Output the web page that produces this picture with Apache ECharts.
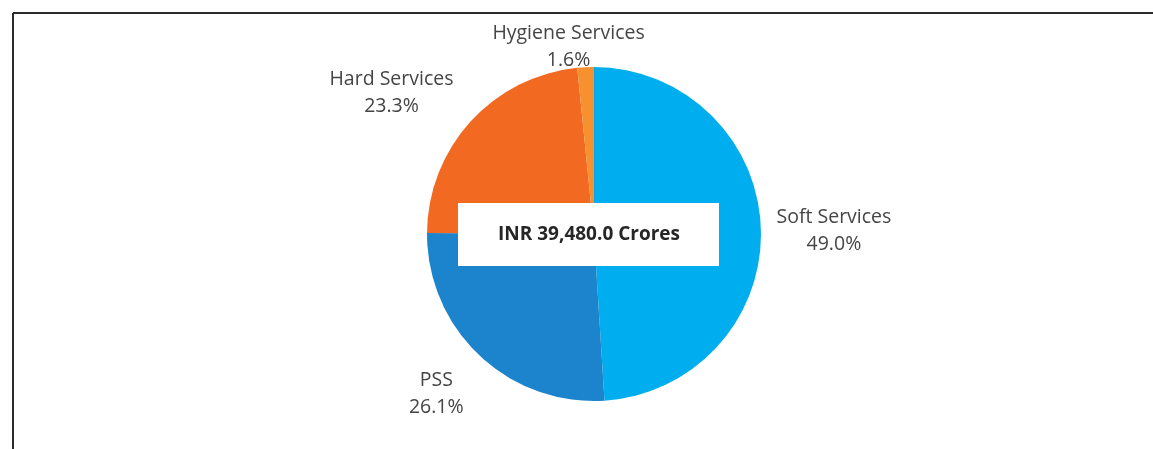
<!DOCTYPE html>
<html>
<head>
<meta charset="utf-8">
<script src="https://cdn.jsdelivr.net/npm/echarts@6/dist/echarts.min.js"></script>
<style>
html,body{margin:0;padding:0;background:#fff;}
#chart{width:1153px;height:449px;}
</style>
</head>
<body>
<div id="chart"></div>
<script>
const categories = ['Soft Services', 'PSS', 'Hard Services', 'Hygiene Services'];
const shares = [49.0, 26.1, 23.3, 1.6];
const colors = ['#00AEEF', '#1B84CC', '#F26A21', '#F7902E'];
const centerText = 'INR 39,480.0 Crores';

// label offsets from the slice edge (dx, dy), per slice
const labelOffsets = [[68, 2], [-38, 39], [-74, -29], [-12, -20]];

const chart = echarts.init(document.getElementById('chart'), null, {renderer: 'canvas'});
chart.setOption({
  animation: false,
  backgroundColor: '#ffffff',
  series: [{
    type: 'pie',
    center: [594, 234],
    radius: 167,
    startAngle: 90,
    clockwise: true,
    avoidLabelOverlap: false,
    data: categories.map((c, i) => ({
      name: c, value: shares[i], itemStyle: {color: colors[i]}
    })),
    label: {
      show: true,
      position: 'outside',
      formatter: p => p.name + '\n' + shares[p.dataIndex].toFixed(1) + '%',
      fontFamily: 'Open Sans',
      fontSize: 19.5,
      lineHeight: 27,
      color: '#454545'
    },
    labelLine: {show: false, length: 0, length2: 0},
    labelLayout: function (p) {
      const o = labelOffsets[p.dataIndex];
      return {align: 'center', verticalAlign: 'middle', dx: o[0], dy: o[1]};
    },
    emphasis: {disabled: true}
  }],
  graphic: [
    {type: 'line', shape: {x1: 13, y1: 13, x2: 1153, y2: 13}, style: {stroke: '#2b2b2b', lineWidth: 2}, z: 10},
    {type: 'line', shape: {x1: 13, y1: 13, x2: 13, y2: 449}, style: {stroke: '#2b2b2b', lineWidth: 2}, z: 10},
    {type: 'rect', shape: {x: 458, y: 203, width: 261, height: 63}, style: {fill: '#ffffff'}, z: 10},
    {type: 'text', x: 589, y: 235, z: 11,
     style: {text: centerText, fontFamily: 'Open Sans', fontWeight: 'bold', fontSize: 19,
             fill: '#262626', align: 'center', verticalAlign: 'middle'}}
  ]
});
</script>
</body>
</html>
